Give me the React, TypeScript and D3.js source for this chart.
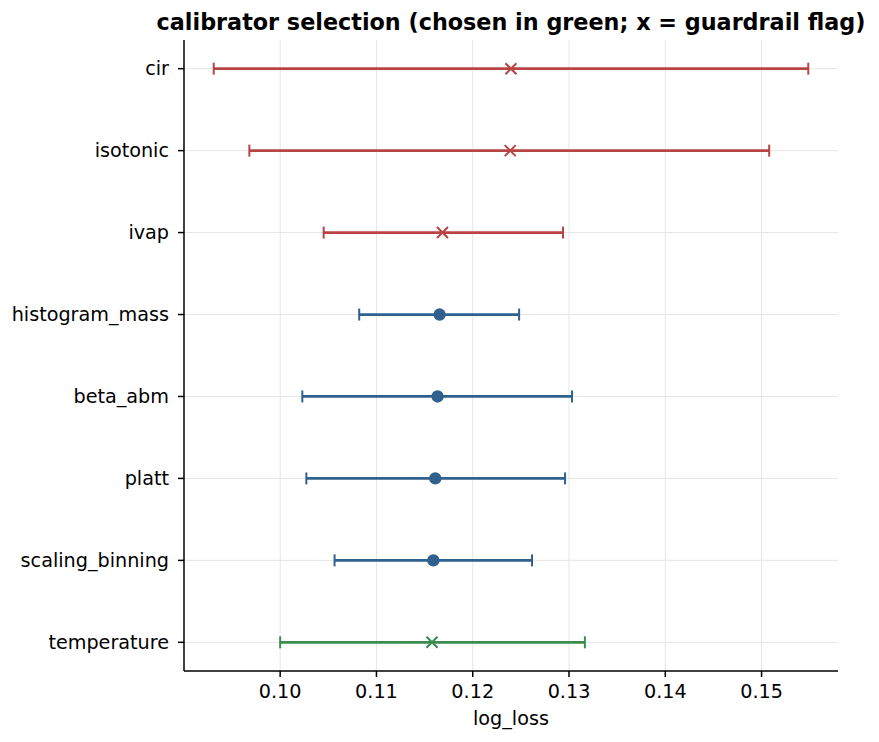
import React from 'react'
import * as d3 from 'd3'

// calibrators listed top -> bottom
const calibrators = ['cir', 'isotonic', 'ivap', 'histogram_mass', 'beta_abm', 'platt', 'scaling_binning', 'temperature']
const meanLoss = [0.12397, 0.12389, 0.11686, 0.11656, 0.11635, 0.11611, 0.11591, 0.11577]
const lowLoss = [0.0931, 0.0968, 0.10452, 0.10821, 0.1023, 0.10272, 0.10565, 0.1]
const highLoss = [0.15485, 0.15079, 0.12938, 0.12482, 0.13031, 0.12959, 0.12616, 0.13165]
const guardrailFlag = [true, true, true, false, false, false, false, true]
const chosen = 'temperature'
const xTicks = [0.1, 0.11, 0.12, 0.13, 0.14, 0.15]

const W = 879
const H = 742
const margin = { top: 40, right: 41, bottom: 71, left: 184 }

const RED = '#b84444'
const BLUE = '#30608e'
const GREEN = '#3a8c4f'
const FONT = 'DejaVu Sans, sans-serif'

export default function App() {
    const lo = d3.min(lowLoss)!
    const hi = d3.max(highLoss)!
    const pad = (hi - lo) * 0.05

    const x = d3.scaleLinear()
        .domain([lo - pad, hi + pad])
        .range([margin.left, W - margin.right])

    const n = calibrators.length
    // index 0 at the top, matplotlib-style 5% margins
    const y = d3.scaleLinear()
        .domain([-0.35, n - 1 + 0.35])
        .range([margin.top, H - margin.bottom])

    const fmt = d3.format('.2f')
    const cap = 6
    const mk = 5.5

    return (
        <svg width={W} height={H} style={{ position: 'absolute', left: 0, top: 0, background: '#fff' }} fontFamily={FONT}>
            {/* grid */}
            {xTicks.map(t => (
                <line key={'gx' + t} x1={x(t)} x2={x(t)} y1={margin.top} y2={H - margin.bottom} stroke="#e6e6e6" strokeWidth={1} />
            ))}
            {calibrators.map((c, i) => (
                <line key={'gy' + c} x1={margin.left} x2={W - margin.right} y1={y(i)} y2={y(i)} stroke="#e6e6e6" strokeWidth={1} />
            ))}

            {/* error bars */}
            {calibrators.map((c, i) => {
                const col = c === chosen ? GREEN : guardrailFlag[i] ? RED : BLUE
                const cy = y(i)
                const cx = x(meanLoss[i])
                return (
                    <g key={c} stroke={col} fill={col}>
                        <line x1={x(lowLoss[i])} x2={x(highLoss[i])} y1={cy} y2={cy} strokeWidth={2.8} />
                        <line x1={x(lowLoss[i])} x2={x(lowLoss[i])} y1={cy - cap} y2={cy + cap} strokeWidth={2} />
                        <line x1={x(highLoss[i])} x2={x(highLoss[i])} y1={cy - cap} y2={cy + cap} strokeWidth={2} />
                        {guardrailFlag[i] ? (
                            <path d={`M${cx - mk},${cy - mk}L${cx + mk},${cy + mk}M${cx - mk},${cy + mk}L${cx + mk},${cy - mk}`} strokeWidth={2} fill="none" />
                        ) : (
                            <circle cx={cx} cy={cy} r={6.2} stroke="none" />
                        )}
                    </g>
                )
            })}

            {/* spines */}
            <line x1={margin.left} x2={margin.left} y1={margin.top} y2={H - margin.bottom} stroke="#000" strokeWidth={1.5} />
            <line x1={margin.left} x2={W - margin.right} y1={H - margin.bottom} y2={H - margin.bottom} stroke="#000" strokeWidth={1.5} />

            {/* y ticks */}
            {calibrators.map((c, i) => (
                <g key={'yt' + c} transform={`translate(${margin.left},${y(i)})`}>
                    <line x1={-6} x2={0} stroke="#000" strokeWidth={1.5} />
                    <text x={-15} dy="0.35em" textAnchor="end" fontSize={19.2} fill="#000">{c}</text>
                </g>
            ))}

            {/* x ticks */}
            {xTicks.map(t => (
                <g key={'xt' + t} transform={`translate(${x(t)},${H - margin.bottom})`}>
                    <line y1={0} y2={6} stroke="#000" strokeWidth={1.5} />
                    <text y={27} textAnchor="middle" fontSize={19.2} fill="#000">{fmt(t)}</text>
                </g>
            ))}

            <text x={(margin.left + W - margin.right) / 2} y={725} textAnchor="middle" fontSize={19.2} fill="#000">log_loss</text>
            <text x={(margin.left + W - margin.right) / 2} y={30} textAnchor="middle" fontSize={22.3} fontWeight="bold" fill="#000">
                calibrator selection (chosen in green; x = guardrail flag)
            </text>
        </svg>
    )
}
